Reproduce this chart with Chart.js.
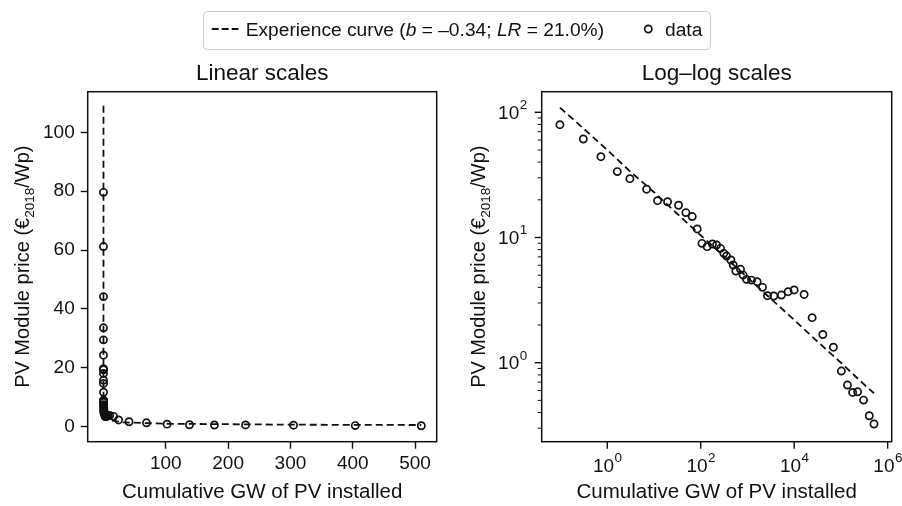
<!DOCTYPE html>
<html>
<head>
<meta charset="utf-8">
<script src="https://cdn.jsdelivr.net/npm/chart.js@4.4.1/dist/chart.umd.min.js"></script>
<style>
  html, body { margin: 0; padding: 0; background: #fff; }
  #wrap { position: relative; width: 902px; height: 506px; overflow: hidden; }
  canvas { position: absolute; top: 0; }
  #linearChart { left: 0; }
  #logChart { left: 455px; }
</style>
</head>
<body>
<div id="wrap">
  <canvas id="linearChart" width="902" height="506"></canvas>
  <canvas id="logChart" width="447" height="506"></canvas>
</div>
<script>
// cumulative PV installed as plotted on the log-log panel (one point per year)
const cumulativeMW = [0.097, 0.307, 0.73, 1.64, 3.05, 6.93, 11.9, 19.5, 33.5, 48.1, 65.7, 84,
  106, 137, 178, 218, 265, 312, 356, 441, 495, 564, 710, 809, 953, 1220, 1610, 2096,
  2680, 3660, 5340, 7420, 9970, 16300, 24200, 41000, 69000, 102000, 138000, 178000,
  228000, 305000, 404000, 510000];
const modulePrice = [79.6, 61.2, 44.2, 33.6, 29.5, 24.3, 19.7, 19.3, 18.1, 15.8, 14.7, 11.7,
  8.98, 8.45, 8.87, 8.71, 8.19, 7.47, 7.11, 6.61, 6.03, 5.40, 5.57, 5.01, 4.63, 4.57, 4.44, 4.00,
  3.43, 3.41, 3.47, 3.69, 3.81, 3.51, 2.29, 1.68, 1.33, 0.858, 0.663, 0.579,
  0.586, 0.503, 0.377, 0.324];

// experience curve
const curveMW = [0.097, 0.3, 1, 3, 10, 30, 100, 300, 1000, 3000, 10000, 30000, 100000, 300000, 510000];
const curvePrice = [109, 75, 50, 34, 23, 15.7, 10.4, 7.2, 4.8, 3.3, 2.2, 1.5, 1.0, 0.68, 0.57];

const linearXTicks = [100, 200, 300, 400, 500];
const linearYTicks = [0, 20, 40, 60, 80, 100];
const logXTicks = [1, 100, 10000, 1000000];
const logYTicks = [1, 10, 100];
const logYMinorTicks = [0.3, 0.4, 0.5, 0.6, 0.7, 0.8, 0.9, 2, 3, 4, 5, 6, 7, 8, 9,
  20, 30, 40, 50, 60, 70, 80, 90];

const FAMILY = "'Liberation Sans', Arial, sans-serif";
const INK = '#111';
const f = (size, style) => (style ? style + ' ' : '') + size + 'px ' + FAMILY;

function toPoints(xs, ys, div) {
  return xs.map((x, i) => ({ x: x / div, y: ys[i] }));
}

function frame(chart) {
  const a = chart.chartArea, ctx = chart.ctx;
  ctx.save();
  ctx.strokeStyle = INK;
  ctx.lineWidth = 1.5;
  ctx.strokeRect(a.left, a.top, a.right - a.left, a.bottom - a.top);
  ctx.restore();
}

function centeredText(ctx, text, x, y, size) {
  ctx.save();
  ctx.font = f(size);
  ctx.fillStyle = INK;
  ctx.textAlign = 'center';
  ctx.textBaseline = 'alphabetic';
  ctx.fillText(text, x, y);
  ctx.restore();
}

function titles(chart, title, yLabelX) {
  const a = chart.chartArea, ctx = chart.ctx;
  const cx = (a.left + a.right) / 2;
  centeredText(ctx, title, cx, 80, 22.5);
  centeredText(ctx, 'Cumulative GW of PV installed', cx, 498, 20.5);

  // rotated y label with subscript
  const parts = [['PV Module price (€', 20, 0], ['2018', 13.5, 4.5], ['/Wp)', 20, 0]];
  ctx.save();
  ctx.fillStyle = INK;
  ctx.translate(yLabelX, (a.top + a.bottom) / 2);
  ctx.rotate(-Math.PI / 2);
  let total = 0;
  parts.forEach(p => { ctx.font = f(p[1]); total += ctx.measureText(p[0]).width; });
  let x = -total / 2;
  ctx.textBaseline = 'alphabetic';
  parts.forEach(p => {
    ctx.font = f(p[1]);
    ctx.fillText(p[0], x, p[2]);
    x += ctx.measureText(p[0]).width;
  });
  ctx.restore();
}

function legend(ctx) {
  ctx.save();
  ctx.beginPath();
  ctx.roundRect(203.5, 11.5, 507, 38, 4);
  ctx.fillStyle = 'rgba(255,255,255,0.8)';
  ctx.fill();
  ctx.strokeStyle = '#cccccc';
  ctx.lineWidth = 1;
  ctx.stroke();

  ctx.strokeStyle = INK;
  ctx.lineWidth = 1.8;
  ctx.setLineDash([7, 3]);
  ctx.beginPath();
  ctx.moveTo(211.7, 29);
  ctx.lineTo(238.5, 29);
  ctx.stroke();
  ctx.setLineDash([]);

  const segs = [['Experience curve (', ''], ['b', 'italic'], [' = \u20130.34; ', ''],
    ['LR', 'italic'], [' = 21.0%)', '']];
  ctx.fillStyle = INK;
  ctx.textBaseline = 'alphabetic';
  let x = 245.7;
  segs.forEach(s => {
    ctx.font = f(19.2, s[1]);
    ctx.fillText(s[0], x, 36);
    x += ctx.measureText(s[0]).width;
  });

  ctx.lineWidth = 1.7;
  ctx.beginPath();
  ctx.arc(648.3, 29, 3.6, 0, Math.PI * 2);
  ctx.stroke();
  ctx.font = f(19.2);
  ctx.fillText('data', 665, 36);
  ctx.restore();
}

const linearDecor = {
  id: 'linearDecor',
  afterDraw(chart) {
    frame(chart);
    titles(chart, 'Linear scales', 29);
    legend(chart.ctx);
  }
};

function powLabel(ctx, exp) {
  ctx.font = f(19);
  const w1 = ctx.measureText('10').width;
  ctx.font = f(13.5);
  const w2 = ctx.measureText(String(exp)).width;
  return { w1, w2, total: w1 + w2 };
}

function drawPow(ctx, exp, left, baseline) {
  const m = powLabel(ctx, exp);
  ctx.font = f(19);
  ctx.fillText('10', left, baseline);
  ctx.font = f(13.5);
  ctx.fillText(String(exp), left + m.w1 + 0.5, baseline - 9.5);
}

const logDecor = {
  id: 'logDecor',
  afterDraw(chart) {
    const ctx = chart.ctx, a = chart.chartArea;
    const xs = chart.scales.x, ys = chart.scales.y;
    ctx.save();
    ctx.strokeStyle = INK;
    ctx.fillStyle = INK;
    ctx.lineWidth = 1.4;
    ctx.textAlign = 'left';
    ctx.textBaseline = 'alphabetic';
    logXTicks.forEach(v => {
      const px = xs.getPixelForValue(v);
      ctx.beginPath();
      ctx.moveTo(px, a.bottom);
      ctx.lineTo(px, a.bottom + 7);
      ctx.stroke();
      const exp = Math.round(Math.log10(v));
      const m = powLabel(ctx, exp);
      drawPow(ctx, exp, px - m.total / 2, 471.5);
    });
    logYTicks.forEach(v => {
      const py = ys.getPixelForValue(v);
      ctx.beginPath();
      ctx.moveTo(a.left, py);
      ctx.lineTo(a.left - 7, py);
      ctx.stroke();
      const exp = Math.round(Math.log10(v));
      const m = powLabel(ctx, exp);
      drawPow(ctx, exp, a.left - 15 - m.total, py + 6.5);
    });
    ctx.lineWidth = 1;
    logYMinorTicks.forEach(v => {
      const py = ys.getPixelForValue(v);
      ctx.beginPath();
      ctx.moveTo(a.left, py);
      ctx.lineTo(a.left - 4, py);
      ctx.stroke();
    });
    ctx.restore();
    frame(chart);
    titles(chart, 'Log\u2013log scales', 30);
  }
};

const curveStyle = {
  label: 'Experience curve',
  showLine: true,
  borderColor: INK,
  borderWidth: 1.8,
  borderDash: [7, 4],
  pointRadius: 0,
  fill: false
};
const dataStyle = {
  label: 'data',
  showLine: false,
  pointRadius: 3.6,
  pointBorderWidth: 1.7,
  borderColor: INK,
  backgroundColor: 'rgba(0,0,0,0)'
};

const tickFont = { family: FAMILY, size: 19 };
const markGrid = { display: true, drawOnChartArea: false, drawTicks: true, tickLength: 7, tickColor: INK, tickWidth: 1.4 };

new Chart(document.getElementById('linearChart'), {
  type: 'scatter',
  data: {
    datasets: [
      { ...curveStyle, data: toPoints(curveMW, curvePrice, 1000) },
      { ...dataStyle, data: toPoints(cumulativeMW, modulePrice, 1000) }
    ]
  },
  options: {
    responsive: false,
    animation: false,
    devicePixelRatio: 1,
    layout: { padding: { left: 0, top: 91.7, right: 465.3, bottom: 0 } },
    plugins: { legend: { display: false }, tooltip: { enabled: false } },
    scales: {
      x: {
        type: 'linear', min: -25.3, max: 534.7,
        afterBuildTicks: s => { s.ticks = linearXTicks.map(v => ({ value: v })); },
        afterFit: s => { s.height = 64.3; },
        grid: markGrid,
        border: { display: false },
        ticks: { font: tickFont, color: INK, padding: 4, maxRotation: 0, autoSkip: false }
      },
      y: {
        type: 'linear', min: -5.1, max: 113.8,
        afterBuildTicks: s => { s.ticks = linearYTicks.map(v => ({ value: v })); },
        afterFit: s => { s.width = 87.7; },
        grid: markGrid,
        border: { display: false },
        ticks: { font: tickFont, color: INK, padding: 6, autoSkip: false }
      }
    }
  },
  plugins: [linearDecor]
});

new Chart(document.getElementById('logChart'), {
  type: 'scatter',
  data: {
    datasets: [
      { ...curveStyle, data: toPoints(curveMW, curvePrice, 1) },
      { ...dataStyle, data: toPoints(cumulativeMW, modulePrice, 1) }
    ]
  },
  options: {
    responsive: false,
    animation: false,
    devicePixelRatio: 1,
    layout: { padding: { left: 0, top: 91.7, right: 10.3, bottom: 0 } },
    plugins: { legend: { display: false }, tooltip: { enabled: false } },
    scales: {
      x: {
        type: 'logarithmic', min: 0.0395, max: 1.22e6,
        afterFit: s => { s.height = 64.3; },
        grid: { display: false },
        border: { display: false },
        ticks: { display: false }
      },
      y: {
        type: 'logarithmic', min: 0.234, max: 146,
        afterFit: s => { s.width = 86.7; },
        grid: { display: false },
        border: { display: false },
        ticks: { display: false }
      }
    }
  },
  plugins: [logDecor]
});
</script>
</body>
</html>
